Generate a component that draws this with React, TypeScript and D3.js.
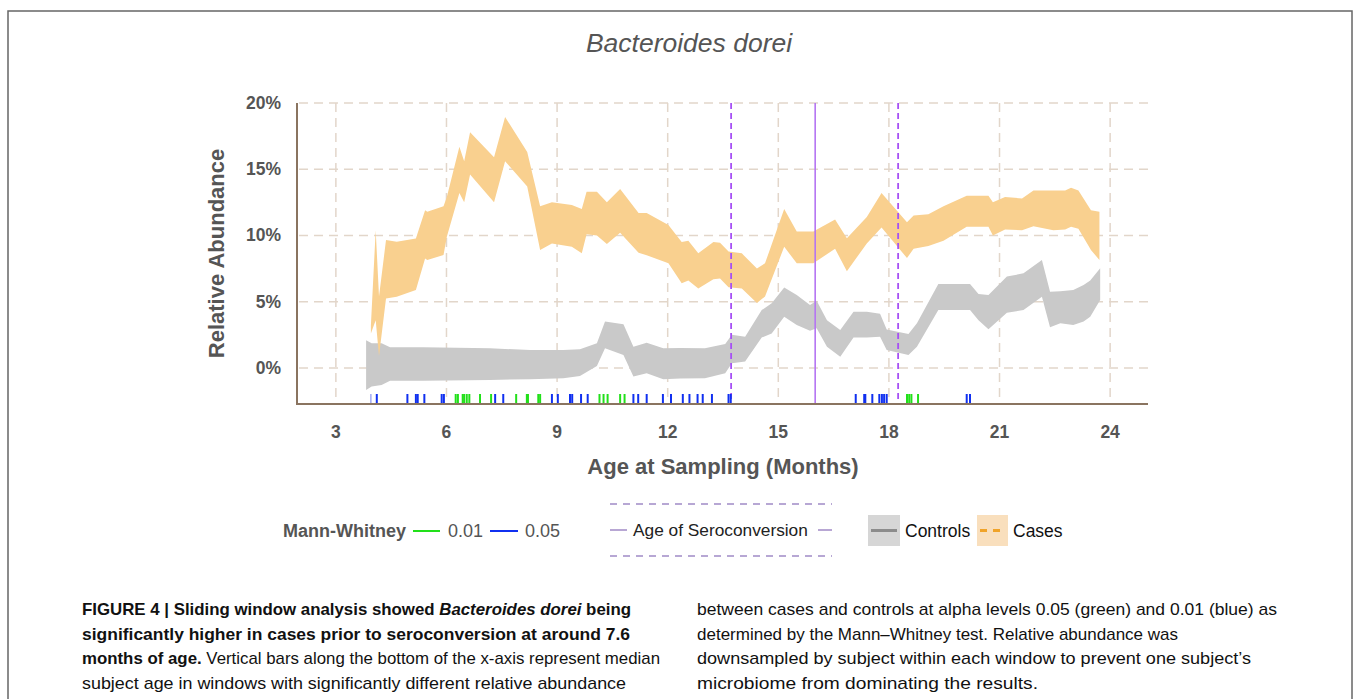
import React from "react";
import * as d3 from "d3";

// band estimates (percent relative abundance)
const caseMonths = [3.95, 4.08, 4.17, 4.36, 4.65, 5.17, 5.42, 5.48, 5.92, 6.01, 6.35, 6.48, 6.64, 7.29, 7.59, 8.19, 8.54, 8.86, 9.4, 9.67, 9.8, 10.08, 10.35, 10.71, 11.21, 11.43, 12.02, 12.38, 12.56, 12.83, 13.24, 13.42, 13.65, 14.01, 14.42, 14.64, 15.16, 15.5, 15.95, 16.54, 16.86, 17.4, 17.8, 18.49, 18.67, 19.07, 19.48, 20.11, 20.7, 20.82, 21.15, 21.61, 21.92, 22.46, 22.78, 22.94, 23.14, 23.48, 23.71];
const caseLow = [2.6, 3.6, 0.9, 5.25, 5.38, 5.88, 8.27, 8.14, 8.52, 9.9, 13.2, 12.5, 14.6, 12.5, 15.6, 13.7, 8.9, 9.4, 9.15, 8.65, 10.1, 10.0, 9.35, 10.2, 8.7, 8.5, 7.9, 6.4, 6.6, 6.0, 6.7, 6.75, 6.1, 6.0, 4.9, 5.4, 9.15, 7.9, 7.9, 9.0, 7.3, 9.4, 10.6, 8.3, 9.0, 9.2, 9.6, 10.65, 10.65, 10.0, 10.45, 10.4, 10.7, 10.4, 10.45, 10.65, 10.5, 8.9, 8.15];
const caseHigh = [3.2, 10.4, 5.4, 9.65, 9.53, 9.78, 11.9, 11.8, 12.2, 12.9, 16.7, 15.6, 17.8, 15.9, 18.95, 16.3, 12.2, 12.5, 12.3, 12.0, 13.3, 13.3, 12.5, 13.5, 11.7, 11.7, 10.8, 9.5, 9.6, 8.65, 9.5, 9.45, 8.8, 8.65, 7.5, 7.9, 12.0, 10.3, 10.3, 11.2, 9.8, 11.4, 13.2, 11.0, 11.5, 11.6, 12.2, 13.0, 13.0, 12.5, 12.9, 12.8, 13.4, 13.4, 13.4, 13.6, 13.4, 11.9, 11.8];

const controlMonths = [3.82, 3.97, 4.24, 4.47, 5.37, 7.18, 8.27, 9.17, 9.62, 10.08, 10.3, 10.8, 11.07, 11.43, 11.88, 12.34, 13.01, 13.56, 13.74, 14.1, 14.55, 14.82, 15.16, 15.5, 15.86, 16.04, 16.32, 16.68, 17.04, 17.4, 17.76, 17.94, 18.53, 18.76, 19.34, 20.2, 20.43, 20.7, 21.2, 21.65, 22.15, 22.37, 22.65, 23.0, 23.28, 23.46, 23.73];
const controlLow = [-1.66, -1.4, -1.28, -0.96, -0.96, -0.9, -0.85, -0.78, -0.6, 0.15, 1.48, 0.98, -0.65, -0.4, -0.85, -0.8, -0.78, -0.4, 0.35, 0.48, 2.3, 2.6, 3.87, 3.24, 2.8, 3.0, 1.6, 0.85, 2.3, 2.3, 2.36, 1.36, 0.98, 1.6, 4.37, 4.37, 3.6, 2.92, 4.17, 4.37, 5.38, 3.07, 3.37, 3.24, 3.5, 3.87, 5.13];
const controlHigh = [2.1, 1.86, 1.86, 1.56, 1.56, 1.48, 1.36, 1.36, 1.41, 1.86, 3.5, 3.3, 1.6, 1.9, 1.48, 1.5, 1.48, 1.8, 2.5, 2.36, 4.37, 4.88, 6.08, 5.5, 4.75, 5.08, 3.6, 2.87, 4.25, 4.25, 4.1, 2.9, 2.56, 3.37, 6.33, 6.33, 5.58, 5.5, 6.9, 7.14, 8.14, 5.75, 5.8, 5.88, 6.26, 6.6, 7.52];

// median subject age of windows with significant differences
const sigGreen = [6.25, 6.31, 6.44, 6.48, 6.55, 6.62, 6.91, 7.21, 7.89, 8.18, 8.21, 8.49, 8.54, 10.15, 10.26, 10.37, 10.71, 10.83, 18.49, 18.55, 18.61, 18.79];
const sigBlue = [4.11, 4.94, 5.17, 5.22, 5.4, 5.87, 5.93, 7.32, 7.54, 8.86, 9.02, 9.35, 9.41, 9.65, 9.83, 11.07, 11.2, 11.43, 11.87, 12.09, 12.41, 12.59, 12.81, 12.95, 13.2, 13.65, 13.71, 17.1, 17.33, 17.36, 17.55, 17.74, 17.81, 17.87, 17.94, 20.11, 20.2];
const sigFaint = [3.95];

const seroconversion = 16;
const seroSpread = [13.72, 18.25];

const xTicks = [3, 6, 9, 12, 15, 18, 21, 24];
const yTicks = [0, 5, 10, 15, 20];

const captionLeft = [
  { parts: [["b", "FIGURE 4 | Sliding window analysis showed "], ["bi", "Bacteroides dorei"], ["b", " being"]], w: 549 },
  { parts: [["b", "significantly higher in cases prior to seroconversion at around 7.6"]], w: 548 },
  { parts: [["b", "months of age."], ["n", " Vertical bars along the bottom of the x-axis represent median"]], w: 578 },
  { parts: [["n", "subject age in windows with significantly different relative abundance"]], w: 544 },
];
const captionRight = [
  { parts: [["n", "between cases and controls at alpha levels 0.05 (green) and 0.01 (blue) as"]], w: 580 },
  { parts: [["n", "determined by the Mann\u2013Whitney test. Relative abundance was"]], w: 0 },
  { parts: [["n", "downsampled by subject within each window to prevent one subject\u2019s"]], w: 554 },
  { parts: [["n", "microbiome from dominating the results."]], w: 341 },
];

const font = "'Liberation Sans', Arial, Helvetica, sans-serif";
const gridColor = "#e2d6ca";
const axisColor = "#8a7460";

export default function App() {
  const x = d3.scaleLinear().domain([2, 25]).range([299, 1147]);
  const y = d3.scaleLinear().domain([-2.72, 20]).range([404, 103]);

  const band = d3
    .area<[number, number, number]>()
    .x((d) => x(d[0]))
    .y0((d) => y(d[1]))
    .y1((d) => y(d[2]));

  const cases = caseMonths.map((m, i) => [m, caseLow[i], caseHigh[i]] as [number, number, number]);
  const controls = controlMonths.map((m, i) => [m, controlLow[i], controlHigh[i]] as [number, number, number]);

  const top = y(20);
  const bottom = y.range()[0];

  const captionLine = (line, i, x0, y0) => (
    <text
      key={i}
      x={x0}
      y={y0 + i * 24.5}
      fontSize={17}
      fill="#111"
      textLength={line.w || undefined}
      lengthAdjust={line.w ? "spacingAndGlyphs" : undefined}
    >
      {line.parts.map(([k, s], j) => (
        <tspan key={j} fontWeight={k === "n" ? "normal" : "bold"} fontStyle={k === "bi" ? "italic" : "normal"}>
          {s}
        </tspan>
      ))}
    </text>
  );

  return (
    <svg
      width={1355}
      height={699}
      style={{ position: "absolute", left: 0, top: 0, fontFamily: font }}
    >
      <rect x={0} y={0} width={1355} height={699} fill="#fff" />
      <rect x={8} y={11} width={1344} height={720} fill="none" stroke="#666" strokeWidth={1.5} />

      <text x={689} y={52} textAnchor="middle" fontSize={26.5} fontStyle="italic" fill="#555">
        Bacteroides dorei
      </text>

      {/* grid */}
      {yTicks.map((t) => (
        <line key={"gy" + t} x1={x(2)} x2={1148} y1={y(t)} y2={y(t)} stroke={gridColor} strokeWidth={1.5} strokeDasharray="9,6" />
      ))}
      {xTicks.map((t) => (
        <line key={"gx" + t} x1={x(t)} x2={x(t)} y1={top} y2={bottom} stroke={gridColor} strokeWidth={1.5} strokeDasharray="9,6" />
      ))}

      {/* bands */}
      <path d={band(controls) || ""} fill="#c9c9c9" />
      <path d={band(cases) || ""} fill="#f9d08f" />

      {/* seroconversion */}
      {seroSpread.map((m) => (
        <line key={"sd" + m} x1={x(m)} x2={x(m)} y1={top} y2={bottom} stroke="#a650f5" strokeWidth={1.8} strokeDasharray="6,4" />
      ))}
      <line x1={x(seroconversion)} x2={x(seroconversion)} y1={top} y2={bottom} stroke="#b475f2" strokeWidth={1.6} />

      {/* significance bars */}
      {sigFaint.map((m, i) => (
        <line key={"f" + i} x1={x(m)} x2={x(m)} y1={394} y2={403} stroke="#8a95f0" strokeWidth={1.2} />
      ))}
      {sigBlue.map((m, i) => (
        <line key={"b" + i} x1={x(m)} x2={x(m)} y1={394} y2={403} stroke="#1030f0" strokeWidth={2} />
      ))}
      {sigGreen.map((m, i) => (
        <line key={"g" + i} x1={x(m)} x2={x(m)} y1={394} y2={403} stroke="#22e01a" strokeWidth={2} />
      ))}

      {/* axes */}
      <line x1={297} x2={297} y1={top} y2={bottom + 1} stroke={axisColor} strokeWidth={2} />
      <line x1={296} x2={1148} y1={bottom} y2={bottom} stroke={axisColor} strokeWidth={2} />
      {yTicks.map((t) => (
        <text key={"ty" + t} x={281} y={y(t) + 6} textAnchor="end" fontSize={17.5} fontWeight="bold" fill="#555">
          {t + "%"}
        </text>
      ))}
      {xTicks.map((t) => (
        <text key={"tx" + t} x={x(t)} y={438} textAnchor="middle" fontSize={17.5} fontWeight="bold" fill="#555">
          {t}
        </text>
      ))}
      <text transform={`translate(224,${(top + y(0)) / 2 + 18}) rotate(-90)`} textAnchor="middle" fontSize={22} fontWeight="bold" fill="#555">
        Relative Abundance
      </text>
      <text x={723} y={474} textAnchor="middle" fontSize={22} fontWeight="bold" fill="#555">
        Age at Sampling (Months)
      </text>

      {/* legend */}
      <text x={283} y={537} fontSize={18} fontWeight="bold" fill="#555">Mann-Whitney</text>
      <line x1={413} x2={440} y1={531} y2={531} stroke="#22e01a" strokeWidth={2} />
      <text x={448} y={537} fontSize={18} fill="#555">0.01</text>
      <line x1={490} x2={518} y1={531} y2={531} stroke="#1030f0" strokeWidth={2} />
      <text x={525} y={537} fontSize={18} fill="#555">0.05</text>

      <line x1={610} x2={832} y1={504} y2={504} stroke="#a08ac6" strokeWidth={1.5} strokeDasharray="7,6" />
      <line x1={610} x2={832} y1={556} y2={556} stroke="#a08ac6" strokeWidth={1.5} strokeDasharray="7,6" />
      <line x1={610} x2={627} y1={530} y2={530} stroke="#a08ac6" strokeWidth={1.5} />
      <text x={633} y={536} fontSize={17.3} fill="#222">Age of Seroconversion</text>
      <line x1={818} x2={832} y1={530} y2={530} stroke="#a08ac6" strokeWidth={1.5} />

      <rect x={868} y={515} width={32} height={31} fill="#d6d6d6" />
      <line x1={871} x2={897} y1={530.5} y2={530.5} stroke="#8c8c8c" strokeWidth={3} />
      <text x={905} y={537} fontSize={17.5} fill="#111">Controls</text>
      <rect x={977} y={515} width={31} height={31} fill="#f9dfbd" />
      <line x1={980} x2={1006} y1={530.5} y2={530.5} stroke="#f0a328" strokeWidth={3} strokeDasharray="7,6" />
      <text x={1013} y={537} fontSize={17.5} fill="#111">Cases</text>

      {/* caption */}
      {captionLeft.map((l, i) => captionLine(l, i, 82, 615))}
      {captionRight.map((l, i) => captionLine(l, i, 697, 615))}
    </svg>
  );
}
